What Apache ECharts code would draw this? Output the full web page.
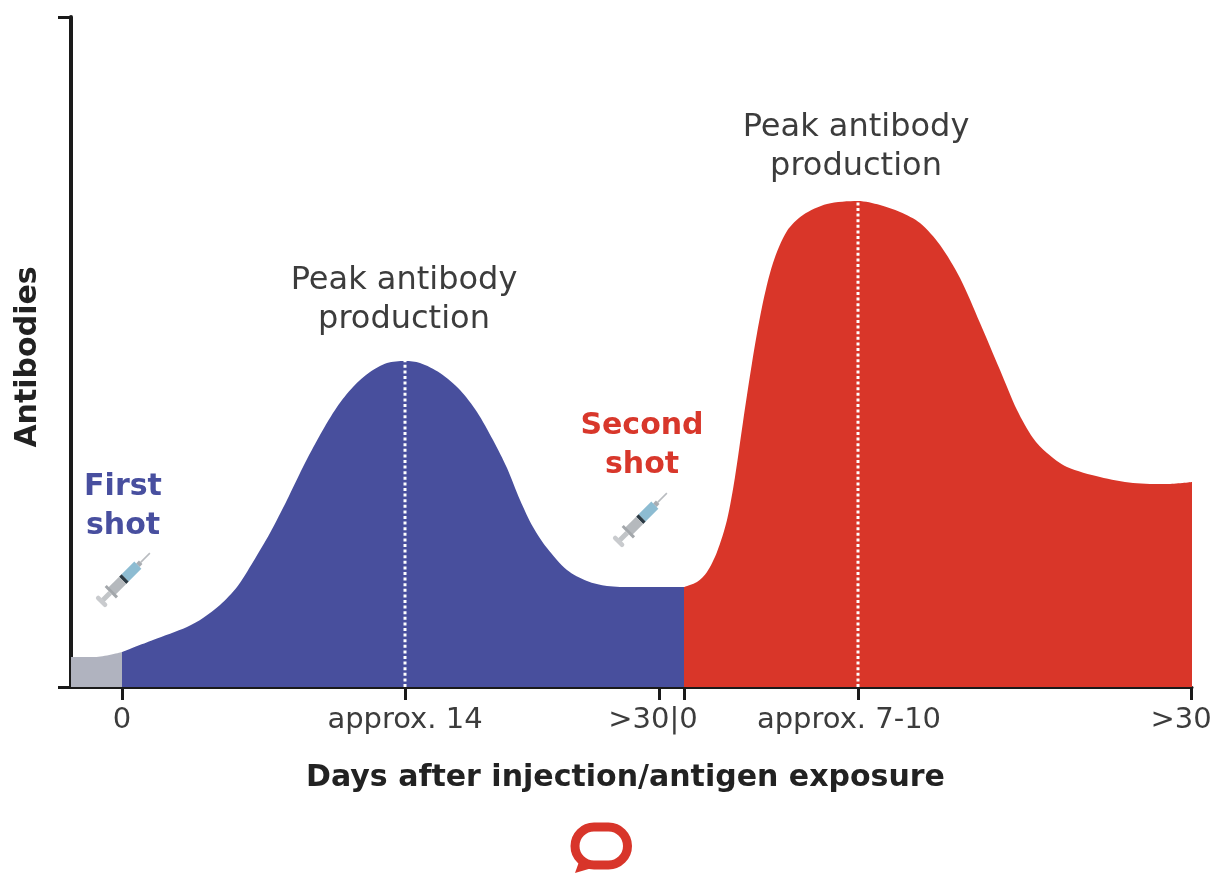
<!DOCTYPE html>
<html>
<head>
<meta charset="utf-8">
<style>html,body{margin:0;padding:0;background:#fff}#c{width:1221px;height:873px}</style>
<script src="https://cdn.jsdelivr.net/npm/echarts@6/dist/echarts.min.js"></script>
</head>
<body>
<div id="c"></div>
<script>
const baselineX = [71, 95, 122];
const baselineY = [30, 30, 35];
const firstX = [122, 153, 187, 203, 220, 237, 253, 270, 287, 303, 320, 337, 353, 370, 387, 405, 420, 440, 460, 477, 493, 507, 520, 533, 547, 567, 587, 607, 633, 684];
const firstY = [35, 47, 60, 69, 82, 100, 125, 154, 187, 220, 252, 280, 300, 315, 324, 326, 324, 314, 297, 275, 247, 219, 187, 160, 139, 117, 106, 101, 100, 100];
const secondX = [684, 697, 707, 717, 727, 735, 743, 752, 762, 773, 787, 803, 827, 858, 880, 900, 920, 940, 960, 980, 1000, 1017, 1033, 1047, 1067, 1100, 1133, 1167, 1192];
const secondY = [100, 105, 115, 135, 167, 210, 265, 324, 380, 424, 456, 472, 483, 486, 482, 475, 464, 442, 409, 364, 317, 277, 249, 234, 220, 210, 204, 203, 205];
const peakX = [405, 858];
const peakY = [326, 486];
const tickValues = [122, 405, 659, 684, 858, 1191];
const labelPositions = [122, 405, 653, 849, 1181];
const labelTexts = ['0', 'approx. 14', '>30|0', 'approx. 7-10', '>30'];
const notes = [
  {x: 404, y: 387, text: 'Peak antibody\nproduction', color: '#3c3c3c', weight: 400},
  {x: 856, y: 540, text: 'Peak antibody\nproduction', color: '#3c3c3c', weight: 400},
  {x: 123, y: 180, text: 'First\nshot', color: '#484f9f', weight: 700},
  {x: 642, y: 241, text: 'Second\nshot', color: '#d8372b', weight: 700}
];
const FONT = '"DejaVu Sans", sans-serif';
const pairs = (xs, ys) => xs.map((x, i) => [x, ys[i]]);
const area = (name, xs, ys, color) => ({
  name, type: 'line', data: pairs(xs, ys), smooth: 0.3,
  symbol: 'none', lineStyle: {width: 0}, areaStyle: {color: color, opacity: 1}, z: 2
});
const peak = (x, y) => ({
  type: 'line', data: [[x, 0], [x, y]], symbol: 'none', z: 3,
  lineStyle: {color: '#fff', width: 3, type: [3, 2.6]}
});
function syringe(cx, cy) {
  return {
    type: 'group', x: cx, y: cy, rotation: -Math.PI * 0.25, silent: true,
    children: [
      {type: 'rect', shape: {x: -0.8, y: -38, width: 1.6, height: 13}, style: {fill: '#b9bcc0'}},
      {type: 'rect', shape: {x: -2.5, y: -25, width: 5, height: 4}, style: {fill: '#a9adb2'}},
      {type: 'rect', shape: {x: -5, y: -21, width: 10, height: 18}, style: {fill: '#8dbcd2'}},
      {type: 'rect', shape: {x: -5, y: -3, width: 10, height: 3.5}, style: {fill: '#2b3a44'}},
      {type: 'rect', shape: {x: -5, y: 0.5, width: 10, height: 17}, style: {fill: '#b5b9bd'}},
      {type: 'rect', shape: {x: -8, y: 15, width: 16, height: 3}, style: {fill: '#a3a7ab'}},
      {type: 'rect', shape: {x: -2.5, y: 18, width: 5, height: 11}, style: {fill: '#c2c5c8'}},
      {type: 'rect', shape: {x: -7, y: 28, width: 14, height: 4.5, r: 2}, style: {fill: '#c9cbce'}}
    ]
  };
}
const chart = echarts.init(document.getElementById('c'), null, {renderer: 'canvas'});
chart.setOption({
  animation: false,
  backgroundColor: '#fff',
  textStyle: {fontFamily: FONT},
  grid: {left: 71, right: 29, top: 17, bottom: 186, containLabel: false, outerBoundsMode: 'none'},
  xAxis: {
    type: 'value', min: 71, max: 1192, splitLine: {show: false},
    axisLine: {show: true, onZero: false, lineStyle: {color: '#1a1a1a', width: 3}},
    axisTick: {show: true, customValues: tickValues, length: 13, lineStyle: {color: '#1a1a1a', width: 3}},
    axisLabel: {
      show: true, customValues: labelPositions, margin: 19, color: '#3c3c3c', fontSize: 29, fontFamily: FONT,
      hideOverlap: false,
      formatter: v => labelTexts[labelPositions.indexOf(v)]
    },
    name: 'Days after injection/antigen exposure', nameLocation: 'middle', nameGap: 76,
    nameTextStyle: {color: '#222', fontSize: 30, fontWeight: 700, fontFamily: FONT, padding: [0, 12, 0, 0]}
  },
  yAxis: {
    type: 'value', min: 0, max: 670, splitLine: {show: false},
    axisLine: {show: true, lineStyle: {color: '#1a1a1a', width: 4}},
    axisTick: {show: true, customValues: [0, 670], length: 13, lineStyle: {color: '#1a1a1a', width: 3}},
    axisLabel: {show: false},
    name: 'Antibodies', nameLocation: 'middle', nameGap: 28, nameRotate: 90,
    nameTextStyle: {color: '#222', fontSize: 30, fontWeight: 700, fontFamily: FONT, padding: [0, 10, 0, 0]}
  },
  series: [
    area('Baseline', baselineX, baselineY, '#b0b3bf'),
    area('First shot', firstX, firstY, '#484f9d'),
    area('Second shot', secondX, secondY, '#d93629'),
    peak(peakX[0], peakY[0]),
    peak(peakX[1], peakY[1]),
    {
      type: 'scatter', symbolSize: 0, z: 5, silent: true, itemStyle: {opacity: 1},
      data: notes.map(n => ({
        value: [n.x, n.y],
        label: {
          show: true, position: 'inside', formatter: n.text, color: n.color, fontWeight: n.weight, opacity: 1,
          fontFamily: FONT, fontSize: n.weight === 700 ? 30 : 32, lineHeight: 39, align: 'center', verticalAlign: 'middle'
        }
      }))
    }
  ],
  graphic: [
    syringe(123, 580),
    syringe(640, 520),
    {type: 'rect', shape: {x: 575, y: 827, width: 52.5, height: 38, r: 19}, style: {fill: 'none', stroke: '#d8352a', lineWidth: 9}, silent: true},
    {type: 'polygon', shape: {points: [[580, 859], [592, 868], [575, 873]]}, style: {fill: '#d8352a'}, silent: true}
  ]
});
</script>
</body>
</html>
